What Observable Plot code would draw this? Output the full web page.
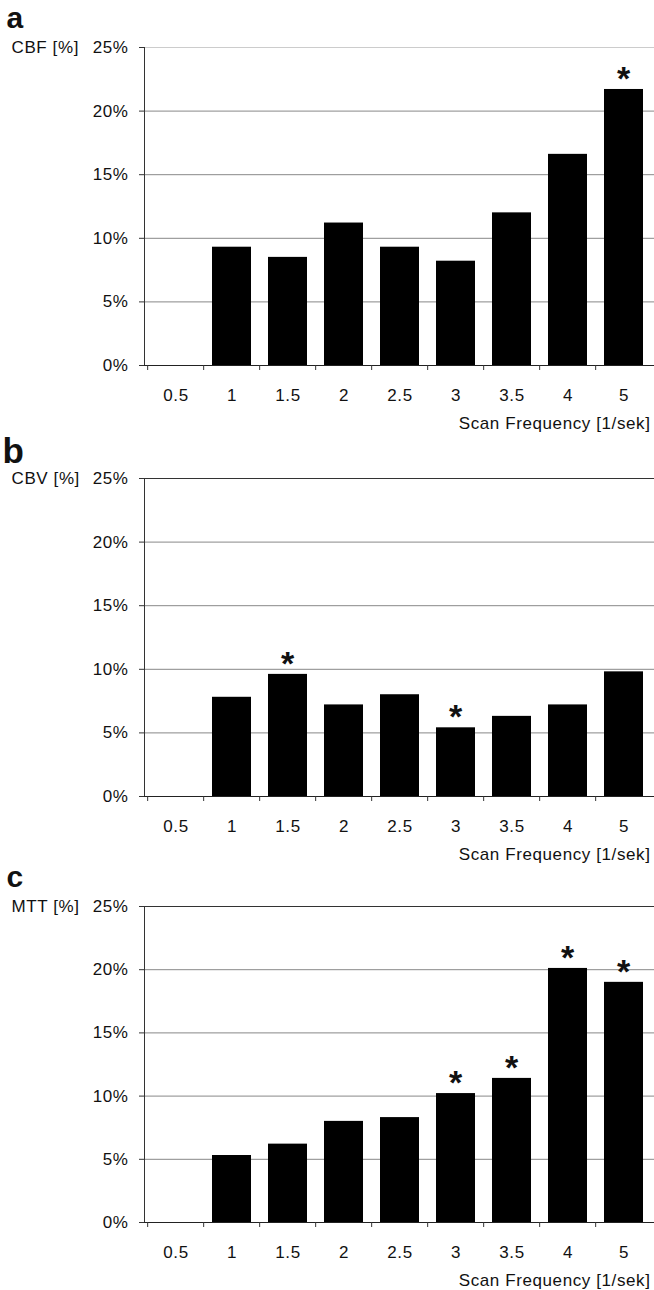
<!DOCTYPE html>
<html>
<head>
<meta charset="utf-8">
<script src="https://cdn.jsdelivr.net/npm/d3@7"></script>
<script src="https://cdn.jsdelivr.net/npm/@observablehq/plot@0.6"></script>
<style>
  html, body { margin: 0; padding: 0; background: white; }
  #chart svg { display: block; }
</style>
</head>
<body>
<div id="chart"></div>
<script>
const freqs = ["0.5", "1", "1.5", "2", "2.5", "3", "3.5", "4", "5"];
const cbf = [0, 9.3, 8.5, 11.2, 9.3, 8.2, 12.0, 16.6, 21.7];
const cbv = [0, 7.8, 9.6, 7.2, 8.0, 5.4, 6.3, 7.2, 9.8];
const mtt = [0, 5.3, 6.2, 8.0, 8.3, 10.2, 11.4, 20.1, 19.0];
const cbfSig = ["5"];
const cbvSig = ["1.5", "3"];
const mttSig = ["3", "3.5", "4", "5"];
const yTicks = [0, 5, 10, 15, 20, 25];
const gridTicks = [5, 10, 15, 20];
const xLabel = "Scan Frequency [1/sek]";

const W = 654, ML = 144;

function panel({letter, letterSize, letterDx, letterDy, ylabel, values, sig, height, marginTop, plotH, topColor}) {
  const data = freqs.map((f, i) => ({f, v: values[i]}));
  const sigData = data.filter(d => sig.includes(d.f));
  const step = (W - ML) / freqs.length;
  return Plot.plot({
    width: W,
    height,
    marginTop,
    marginLeft: ML,
    marginRight: 0,
    marginBottom: height - marginTop - plotH,
    style: {fontFamily: "'Liberation Sans', Arial, sans-serif", fontSize: "17px", letterSpacing: "0.6px", color: "#111", background: "white", overflow: "visible"},
    x: {domain: freqs, paddingInner: 0.31, paddingOuter: 0.155, label: null},
    y: {domain: [0, 25], label: null},
    marks: [
      Plot.ruleY(gridTicks, {stroke: "#888", strokeWidth: 1}),
      Plot.ruleY([25], {stroke: topColor, strokeWidth: 1}),
      Plot.barY(data, {x: "f", y: "v", fill: "black"}),
      Plot.text(sigData, {x: "f", y: "v", text: () => "*", dy: -10.5, lineAnchor: "middle", fontSize: 34, fontWeight: "bold", fill: "#111"}),
      Plot.frame({anchor: "left", stroke: "#333"}),
      Plot.frame({anchor: "bottom", stroke: "#222"}),
      Plot.axisY({ticks: yTicks, tickSize: 5, tickPadding: 11, tickFormat: d => d + "%", label: null, stroke: "#333"}),
      Plot.axisX({tickSize: 0, tickPadding: 23, label: null}),
      Plot.axisX({tickSize: 5, text: null, dx: -step / 2, label: null, stroke: "#333"}),
      Plot.text([letter], {frameAnchor: "top-left", dx: letterDx, dy: letterDy, textAnchor: "start", lineAnchor: "middle", fontSize: letterSize, fontWeight: "bold", fill: "#111"}),
      Plot.text([ylabel], {frameAnchor: "top-left", dx: -133, dy: 0, textAnchor: "start", lineAnchor: "middle", fill: "#111"}),
      Plot.text([xLabel], {frameAnchor: "bottom-right", dx: -4, dy: 58, textAnchor: "end", lineAnchor: "middle", fill: "#111"})
    ]
  });
}

const chart = document.getElementById("chart");
chart.append(panel({letter: "a", letterSize: 30, letterDx: -138, letterDy: -29, ylabel: "CBF [%]", values: cbf, sig: cbfSig, height: 431, marginTop: 47, plotH: 318, topColor: "#ccc"}));
chart.append(panel({letter: "b", letterSize: 35, letterDx: -142, letterDy: -26.5, ylabel: "CBV [%]", values: cbv, sig: cbvSig, height: 429, marginTop: 47, plotH: 318, topColor: "#333"}));
chart.append(panel({letter: "c", letterSize: 30, letterDx: -138, letterDy: -29, ylabel: "MTT [%]", values: mtt, sig: mttSig, height: 430, marginTop: 46, plotH: 316, topColor: "#333"}));
</script>
</body>
</html>
